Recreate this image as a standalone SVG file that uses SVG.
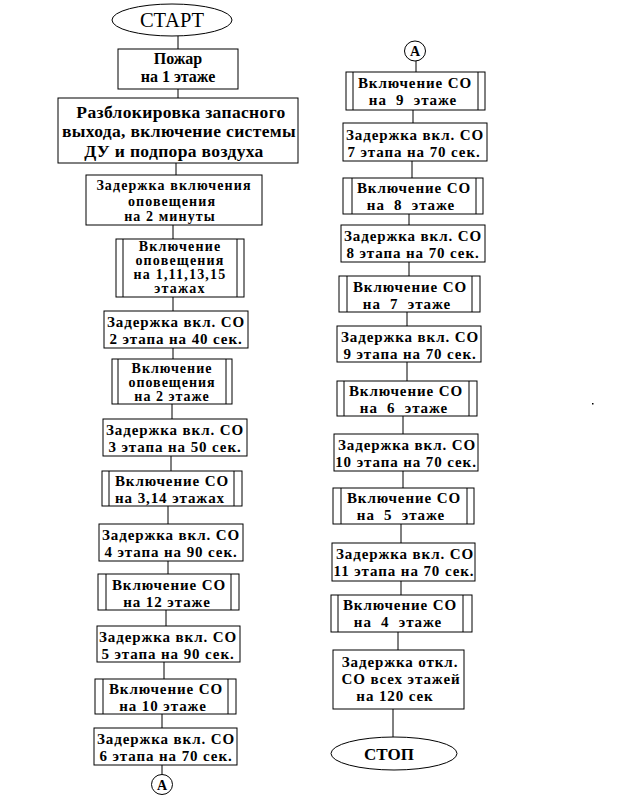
<svg xmlns="http://www.w3.org/2000/svg" width="621" height="803" viewBox="0 0 621 803">
<style>
.s{fill:#fff;stroke:#000;stroke-width:1}
.c{stroke:#000;stroke-width:1;fill:none}
text{font-family:"Liberation Serif","Times New Roman",serif;text-anchor:middle;fill:#000;white-space:pre}
.r{font-size:15px;font-weight:bold;letter-spacing:0.9px}
.p{font-size:14px;font-weight:bold;letter-spacing:1px}
.b{font-size:16px;font-weight:bold}
.w{font-size:14px;font-weight:bold;letter-spacing:1.1px}
.q{font-size:14px;font-weight:bold;letter-spacing:1.2px}
.m{font-size:17.5px;font-weight:bold;letter-spacing:0.35px}
.e{font-size:20.5px}
.t{font-size:17px;font-weight:bold}
.a{font-size:14px;font-weight:bold}
</style>
<rect width="621" height="803" fill="#fff"/>
<g id="connectors">
<line class="c" x1="178" y1="36" x2="178" y2="49"/>
<line class="c" x1="178" y1="89" x2="178" y2="98"/>
<line class="c" x1="176" y1="163" x2="176" y2="175"/>
<line class="c" x1="173" y1="225" x2="173" y2="239"/>
<line class="c" x1="173" y1="297" x2="173" y2="311"/>
<line class="c" x1="173" y1="348" x2="173" y2="359"/>
<line class="c" x1="172" y1="404" x2="172" y2="419"/>
<line class="c" x1="171" y1="456" x2="171" y2="471"/>
<line class="c" x1="168" y1="506" x2="168" y2="524"/>
<line class="c" x1="168" y1="561" x2="168" y2="574"/>
<line class="c" x1="166" y1="610" x2="166" y2="626"/>
<line class="c" x1="164" y1="662" x2="164" y2="679"/>
<line class="c" x1="162" y1="714" x2="162" y2="728"/>
<line class="c" x1="162" y1="765" x2="162" y2="774"/>
<line class="c" x1="416" y1="61" x2="416" y2="72"/>
<line class="c" x1="413" y1="110" x2="413" y2="123"/>
<line class="c" x1="412" y1="161" x2="412" y2="178"/>
<line class="c" x1="409" y1="214" x2="409" y2="225"/>
<line class="c" x1="409" y1="262" x2="409" y2="276"/>
<line class="c" x1="407" y1="312" x2="407" y2="326"/>
<line class="c" x1="407" y1="362" x2="407" y2="381"/>
<line class="c" x1="403" y1="416" x2="403" y2="434"/>
<line class="c" x1="403" y1="471" x2="403" y2="488"/>
<line class="c" x1="401" y1="524" x2="401" y2="543"/>
<line class="c" x1="401" y1="581" x2="401" y2="595"/>
<line class="c" x1="398" y1="632" x2="398" y2="650"/>
<line class="c" x1="393" y1="709" x2="393" y2="737"/>
</g>
<g id="start"><ellipse class="s" cx="172" cy="20" rx="60" ry="16"/><text class="e" x="172" y="27">СТАРТ</text></g>
<g id="n2"><rect class="s" x="118" y="49" width="120" height="40"/><text class="b" x="178" y="64">Пожар</text><text class="b" x="178" y="82">на 1 этаже</text></g>
<g id="n3"><rect class="s" x="58" y="98" width="240" height="65"/><text class="m" x="181" y="117.5">Разблокировка запасного</text><text class="m" x="179" y="137">выхода, включение системы</text><text class="m" x="174" y="156.5">ДУ и подпора воздуха</text></g>
<g id="n4"><rect class="s" x="86" y="175" width="176" height="50"/><text class="w" x="174" y="190">Задержка включения</text><text class="w" x="172" y="205.5">оповещения</text><text class="w" x="170" y="221">на 2 минуты</text></g>
<g id="n5"><rect class="s" x="116" y="239" width="128" height="58"/><line class="c" x1="123" y1="239" x2="123" y2="297"/><line class="c" x1="237" y1="239" x2="237" y2="297"/><text class="q" x="180" y="251">Включение</text><text class="q" x="180" y="265">оповещения</text><text class="q" x="180" y="279">на 1,11,13,15</text><text class="q" x="180" y="293">этажах</text></g>
<g id="n6"><rect class="s" x="104" y="311" width="144" height="37"/><text class="r" x="176" y="327">Задержка вкл. СО</text><text class="r" x="176" y="344">2 этапа на 40 сек.</text></g>
<g id="n7"><rect class="s" x="112" y="359" width="120" height="45"/><line class="c" x1="118" y1="359" x2="118" y2="404"/><line class="c" x1="226" y1="359" x2="226" y2="404"/><text class="p" x="172" y="373">Включение</text><text class="p" x="172" y="387">оповещения</text><text class="p" x="172" y="401">на 2 этаже</text></g>
<g id="n8"><rect class="s" x="103" y="419" width="144" height="37"/><text class="r" x="175" y="435">Задержка вкл. СО</text><text class="r" x="175" y="452">3 этапа на 50 сек.</text></g>
<g id="n9"><rect class="s" x="102" y="471" width="140" height="35"/><line class="c" x1="109" y1="471" x2="109" y2="506"/><line class="c" x1="234" y1="471" x2="234" y2="506"/><text class="r" x="172" y="486">Включение СО</text><text class="r" x="170" y="502.5">на 3,14 этажах</text></g>
<g id="n10"><rect class="s" x="99" y="524" width="144" height="37"/><text class="r" x="171" y="540">Задержка вкл. СО</text><text class="r" x="171" y="557">4 этапа на 90 сек.</text></g>
<g id="n11"><rect class="s" x="98" y="574" width="141" height="36"/><line class="c" x1="106" y1="574" x2="106" y2="610"/><line class="c" x1="231" y1="574" x2="231" y2="610"/><text class="r" x="169" y="590">Включение СО</text><text class="r" x="167" y="606.5">на 12 этаже</text></g>
<g id="n12"><rect class="s" x="97" y="626" width="143" height="36"/><text class="r" x="168" y="642">Задержка вкл. СО</text><text class="r" x="168" y="658.5">5 этапа на 90 сек.</text></g>
<g id="n13"><rect class="s" x="95" y="679" width="141" height="35"/><line class="c" x1="103" y1="679" x2="103" y2="714"/><line class="c" x1="228" y1="679" x2="228" y2="714"/><text class="r" x="166" y="694">Включение СО</text><text class="r" x="163" y="710.5">на 10 этаже</text></g>
<g id="n14"><rect class="s" x="94" y="728" width="143" height="37"/><text class="r" x="166" y="744">Задержка вкл. СО</text><text class="r" x="166" y="761">6 этапа на 70 сек.</text></g>
<g id="connA1"><ellipse class="s" cx="162" cy="784.5" rx="10.5" ry="10"/><text class="a" x="162" y="790">A</text></g>
<g id="connA2"><ellipse class="s" cx="415" cy="51" rx="10.5" ry="10"/><text class="a" x="415" y="56">A</text></g>
<g id="r1"><rect class="s" x="346" y="72" width="139" height="38"/><line class="c" x1="353" y1="72" x2="353" y2="110"/><line class="c" x1="478" y1="72" x2="478" y2="110"/><text class="r" x="415" y="88">Включение СО</text><text class="r" x="413" y="105">на  9  этаже</text></g>
<g id="r2"><rect class="s" x="343" y="123" width="144" height="38"/><text class="r" x="415" y="140">Задержка вкл. СО</text><text class="r" x="414" y="157">7 этапа на 70 сек.</text></g>
<g id="r3"><rect class="s" x="343" y="178" width="140" height="36"/><line class="c" x1="352" y1="178" x2="352" y2="214"/><line class="c" x1="476" y1="178" x2="476" y2="214"/><text class="r" x="414" y="193">Включение СО</text><text class="r" x="411" y="209.5">на  8  этаже</text></g>
<g id="r4"><rect class="s" x="341" y="225" width="144" height="37"/><text class="r" x="413" y="241">Задержка вкл. СО</text><text class="r" x="413" y="258">8 этапа на 70 сек.</text></g>
<g id="r5"><rect class="s" x="339" y="276" width="141" height="36"/><line class="c" x1="347" y1="276" x2="347" y2="312"/><line class="c" x1="472" y1="276" x2="472" y2="312"/><text class="r" x="410" y="292">Включение СО</text><text class="r" x="407" y="308.5">на  7  этаже</text></g>
<g id="r6"><rect class="s" x="337" y="326" width="144" height="36"/><text class="r" x="410" y="342">Задержка вкл. СО</text><text class="r" x="410" y="358.5">9 этапа на 70 сек.</text></g>
<g id="r7"><rect class="s" x="337" y="381" width="140" height="35"/><line class="c" x1="344" y1="381" x2="344" y2="416"/><line class="c" x1="469" y1="381" x2="469" y2="416"/><text class="r" x="406" y="396">Включение СО</text><text class="r" x="404" y="412.5">на  6  этаже</text></g>
<g id="r8"><rect class="s" x="334" y="434" width="144" height="37"/><text class="r" x="407" y="450">Задержка вкл. СО</text><text class="r" x="406" y="467">10 этапа на 70 сек.</text></g>
<g id="r9"><rect class="s" x="333" y="488" width="141" height="36"/><line class="c" x1="341" y1="488" x2="341" y2="524"/><line class="c" x1="467" y1="488" x2="467" y2="524"/><text class="r" x="404" y="503">Включение СО</text><text class="r" x="401" y="519.5">на  5  этаже</text></g>
<g id="r10"><rect class="s" x="332" y="543" width="143" height="38"/><text class="r" x="405" y="559">Задержка вкл. СО</text><text class="r" x="404" y="576">11 этапа на 70 сек.</text></g>
<g id="r11"><rect class="s" x="331" y="595" width="141" height="37"/><line class="c" x1="338" y1="595" x2="338" y2="632"/><line class="c" x1="463" y1="595" x2="463" y2="632"/><text class="r" x="400" y="610">Включение СО</text><text class="r" x="398" y="627">на  4  этаже</text></g>
<g id="r12"><rect class="s" x="333" y="650" width="131" height="59"/><text class="r" x="400" y="667">Задержка откл.</text><text class="r" x="401" y="684">СО всех этажей</text><text class="r" x="395" y="701">на 120 сек</text></g>
<g id="stop"><ellipse class="s" cx="394" cy="753.5" rx="63" ry="16.5"/><text class="t" x="389" y="760">СТОП</text></g>
<rect x="592" y="403" width="1.5" height="1.5" fill="#000"/>
</svg>
